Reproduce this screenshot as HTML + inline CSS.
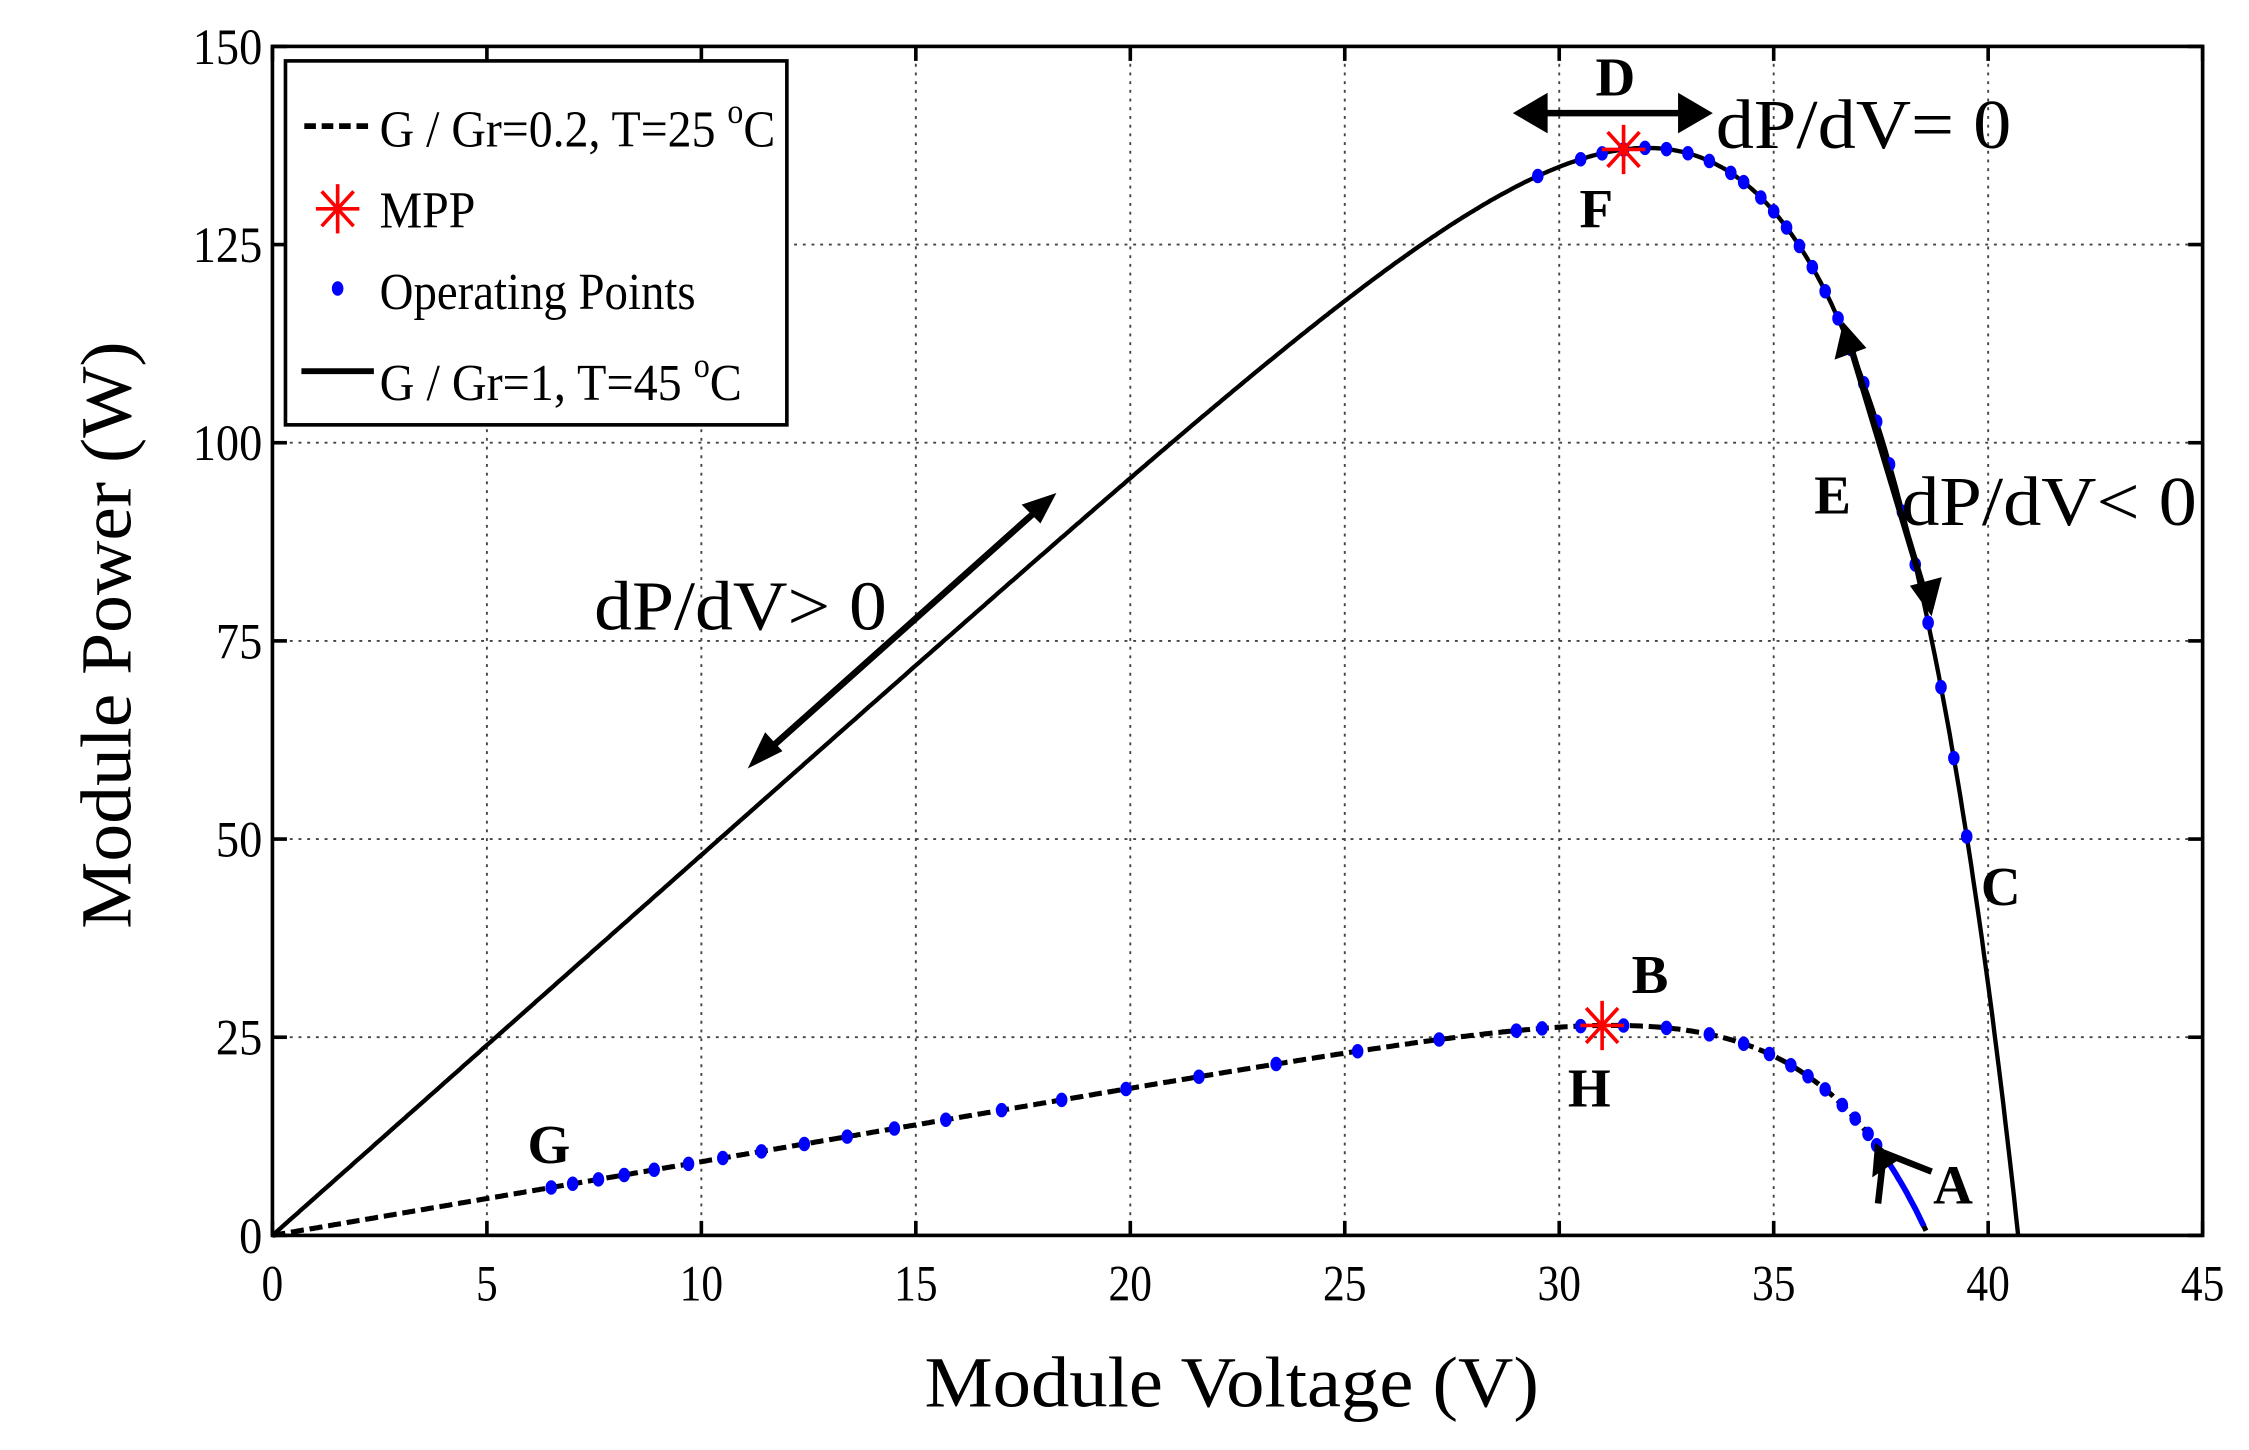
<!DOCTYPE html>
<html><head><meta charset="utf-8">
<style>html,body{margin:0;padding:0;background:#fff;}svg{display:block}</style>
</head><body>
<svg id="s" width="2249" height="1450" viewBox="0 0 1552 1000" preserveAspectRatio="none" xmlns="http://www.w3.org/2000/svg" font-family="'Liberation Serif', serif">
<rect width="1552" height="1000" fill="#fff"/>
<g id="grid" stroke="#444" stroke-width="1.3" stroke-dasharray="2,4"></g>
<g id="curves"></g>
<rect x="188" y="32" width="1332" height="820" fill="none" stroke="#000" stroke-width="2.5"/>
<g id="ticks" stroke="#000" stroke-width="2.5"></g>
<g id="labels" font-size="35" fill="#000"></g>
<text x="850" y="970" font-size="50" text-anchor="middle" textLength="424" lengthAdjust="spacingAndGlyphs">Module Voltage (V)</text>
<text transform="translate(90,438) rotate(-90)" font-size="50" text-anchor="middle" textLength="405" lengthAdjust="spacingAndGlyphs">Module Power (W)</text>
<!-- legend -->
<rect x="197" y="42" width="346" height="251" fill="#fff" stroke="#000" stroke-width="2.5"/>
<line x1="210" y1="87" x2="258" y2="87" stroke="#000" stroke-width="4" stroke-dasharray="8,4"/>
<text x="262" y="101" font-size="36" textLength="273" lengthAdjust="spacingAndGlyphs">G / Gr=0.2, T=25 <tspan dy="-16" font-size="24">o</tspan><tspan dy="16">C</tspan></text>
<g stroke="red" stroke-width="2.5"><line x1="233" y1="127" x2="233" y2="161"/><line x1="218" y1="144" x2="248" y2="144"/><line x1="222" y1="132" x2="244" y2="156"/><line x1="244" y1="132" x2="222" y2="156"/></g>
<text x="262" y="157" font-size="36" textLength="66" lengthAdjust="spacingAndGlyphs">MPP</text>
<ellipse cx="233" cy="199" rx="4" ry="5" fill="blue"/>
<text x="262" y="213" font-size="36" textLength="218" lengthAdjust="spacingAndGlyphs">Operating Points</text>
<line x1="208" y1="256" x2="258" y2="256" stroke="#000" stroke-width="4"/>
<text x="262" y="276" font-size="36" textLength="250" lengthAdjust="spacingAndGlyphs">G / Gr=1, T=45 <tspan dy="-16" font-size="24">o</tspan><tspan dy="16">C</tspan></text>
<!-- annotations -->
<g stroke="#000" stroke-width="4.5" fill="none">
<line x1="525" y1="522" x2="720" y2="348"/>
<line x1="1052" y1="78" x2="1172" y2="78"/>
<line x1="1275" y1="232" x2="1330" y2="415"/>
<line x1="1296" y1="830" x2="1300" y2="795"/>
<line x1="1300" y1="795" x2="1333" y2="808"/>
</g>
<g fill="#000">
<polygon points="516,530 528,505 540,518"/>
<polygon points="729,340 705,348 718,361"/>
<polygon points="1044,78 1068,64 1068,92"/>
<polygon points="1182,78 1158,64 1158,92"/>
<polygon points="1272,222 1266,248 1288,240"/>
<polygon points="1333,425 1318,404 1340,398"/>
<polygon points="1294,788 1292,812 1310,800"/>
</g>
<g font-size="48" fill="#000">
<text x="410" y="434" textLength="202" lengthAdjust="spacingAndGlyphs">dP/dV&gt; 0</text>
<text x="1184" y="102" textLength="204" lengthAdjust="spacingAndGlyphs">dP/dV= 0</text>
<text x="1312" y="362" textLength="204" lengthAdjust="spacingAndGlyphs">dP/dV&lt; 0</text>
</g>
<g font-size="38" font-weight="bold" fill="#000">
<text x="1101" y="66">D</text>
<text x="1090" y="157">F</text>
<text x="1252" y="354">E</text>
<text x="1367" y="624">C</text>
<text x="1126" y="685">B</text>
<text x="1082" y="763">H</text>
<text x="364" y="802">G</text>
<text x="1334" y="830">A</text>
</g>
</svg>
<script>
var X0=188,SX=1332/45,Y0=852,SY=820/150;
function px(v){return X0+v*SX} function py(p){return Y0-p*SY}
var ns="http://www.w3.org/2000/svg";
function el(t,a,par){var e=document.createElementNS(ns,t);for(var k in a)e.setAttribute(k,a[k]);document.getElementById(par).appendChild(e);return e;}
for(var v=5;v<45;v+=5)el('line',{x1:px(v),y1:32,x2:px(v),y2:852},'grid');
for(var p=25;p<150;p+=25)el('line',{x1:188,y1:py(p),x2:1520,y2:py(p)},'grid');
for(var v=0;v<=45;v+=5){el('line',{x1:px(v),y1:852,x2:px(v),y2:842},'ticks');el('line',{x1:px(v),y1:32,x2:px(v),y2:42},'ticks');
 var s=String(v);var t=el('text',{x:px(v),y:897,'text-anchor':'middle',textLength:s.length*15,lengthAdjust:'spacingAndGlyphs'},'labels');t.textContent=s;}
for(var p=0;p<=150;p+=25){el('line',{x1:188,y1:py(p),x2:198,y2:py(p)},'ticks');el('line',{x1:1520,y1:py(p),x2:1510,y2:py(p)},'ticks');
 var s=String(p);var t=el('text',{x:181,y:py(p)+12,'text-anchor':'end',textLength:s.length*16,lengthAdjust:'spacingAndGlyphs'},'labels');t.textContent=s;}
function P1(v){return v*4.8*(1-Math.exp((v-40.7)/3.89));}
function P2(v){return v*0.93*(1-Math.exp((v-38.6)/3.03));}
function path(f,a,b){var d='';for(var v=a;v<=b+1e-9;v+=0.05){d+=(d?'L':'M')+px(v).toFixed(1)+','+py(Math.max(0,f(v))).toFixed(1);}return d;}
el('path',{d:path(P1,0,40.7),stroke:'#000','stroke-width':3,fill:'none'},'curves');
el('path',{d:path(P2,0,38.55),stroke:'#000','stroke-width':3.5,fill:'none','stroke-dasharray':'9,4'},'curves');
el('path',{d:path(P2,37.4,38.5),stroke:'blue','stroke-width':4,fill:'none'},'curves');
var d1=[29.5,30.5,31,31.5,32,32.5,33,33.5,34,34.3,34.7,35,35.3,35.6,35.9,36.2,36.5,36.8,37.1,37.4,37.7,38,38.3,38.6,38.9,39.2,39.5];
d1.forEach(function(v){el('ellipse',{cx:px(v),cy:py(P1(v)),rx:4,ry:5,fill:'blue'},'curves');});
var d2=[6.5,7,7.6,8.2,8.9,9.7,10.5,11.4,12.4,13.4,14.5,15.7,17,18.4,19.9,21.6,23.4,25.3,27.2,29,29.6,30.5,31.5,32.5,33.5,34.3,34.9,35.4,35.8,36.2,36.6,36.9,37.2,37.4];
d2.forEach(function(v){el('ellipse',{cx:px(v),cy:py(P2(v)),rx:4,ry:5,fill:'blue'},'curves');});
function star(cx,cy){var g=el('g',{stroke:'red','stroke-width':2.5},'curves');
 [[0,-17,0,17],[-15,0,15,0],[-11,-12,11,12],[11,-12,-11,12]].forEach(function(a){var l=document.createElementNS(ns,'line');l.setAttribute('x1',cx+a[0]);l.setAttribute('y1',cy+a[1]);l.setAttribute('x2',cx+a[2]);l.setAttribute('y2',cy+a[3]);g.appendChild(l);});}
star(px(31.5),py(P1(31.5)));
star(px(31.0),py(P2(31.0)));
</script>
</body></html>
